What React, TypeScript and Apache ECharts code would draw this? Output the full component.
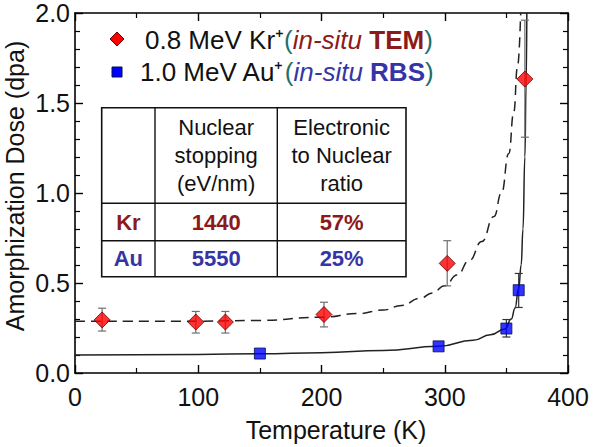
import React, { useEffect, useRef } from 'react';
import * as echarts from 'echarts';

const FONT = '"Liberation Sans", Arial, Helvetica, sans-serif';

const krTemps = [22, 98, 122, 202, 302, 365];
const krDose = [0.295, 0.283, 0.283, 0.325, 0.609, 1.633];
const krErrLow = [0.233, 0.222, 0.222, 0.256, 0.484, 1.31];
const krErrHigh = [0.36, 0.342, 0.342, 0.393, 0.735, 1.96];

const auTemps = [150, 295, 350, 360];
const auDose = [0.108, 0.148, 0.247, 0.46];
const auErrLow: (number | null)[] = [null, null, 0.2, 0.364];
const auErrHigh: (number | null)[] = [null, null, 0.297, 0.553];

// Fit curves as drawn in the figure
const krFitT = [0, 100, 150, 200, 230, 250, 265, 280, 290, 300, 310, 320, 330, 340, 346, 352, 356, 359, 361.6];
const krFitDose = [0.287, 0.288, 0.292, 0.31, 0.33, 0.35, 0.375, 0.415, 0.445, 0.485, 0.545, 0.625, 0.73, 0.87, 1.0, 1.22, 1.45, 1.7, 2.0];
const auFitT = [0, 100, 150, 200, 250, 295, 323, 337, 349, 354, 357, 360, 362, 363.5, 365, 366, 366.6];
const auFitDose = [0.1, 0.103, 0.107, 0.113, 0.125, 0.148, 0.182, 0.212, 0.245, 0.3, 0.36, 0.47, 0.6, 0.8, 1.2, 1.6, 2.0];

// Axis ticks
const xTicks = [0, 100, 200, 300, 400];
const yTicks = [0, 0.5, 1.0, 1.5, 2.0];

// Table contents
const tableHeader = ['', 'Nuclear\nstopping\n(eV/nm)', 'Electronic\nto Nuclear\nratio'];
const tableRows = [
  ['Kr', '1440', '57%'],
  ['Au', '5550', '25%'],
];

const KR_COLOR = '#8b1a1a';
const AU_COLOR = '#3535a5';
const PAREN = '#1f6f6a';

const zip = (a: number[], b: number[]) => a.map((v, i) => [v, b[i]]);

export default function App() {
  const ref = useRef<HTMLDivElement>(null);
  useEffect(() => {
    document.body.style.margin = '0';
    if (!ref.current) return;
    const chart = echarts.init(ref.current, undefined, { renderer: 'svg' });

    const errRender = (color: string) => (params: any, api: any) => {
      const x = api.value(0);
      const lo = api.value(1);
      const hi = api.value(2);
      const p1 = api.coord([x, lo]);
      const p2 = api.coord([x, hi]);
      const w = 4;
      const st = { stroke: color, lineWidth: 1.2 };
      return {
        type: 'group',
        children: [
          { type: 'line', shape: { x1: p1[0], y1: p1[1], x2: p2[0], y2: p2[1] }, style: st },
          { type: 'line', shape: { x1: p1[0] - w, y1: p1[1], x2: p1[0] + w, y2: p1[1] }, style: st },
          { type: 'line', shape: { x1: p2[0] - w, y1: p2[1], x2: p2[0] + w, y2: p2[1] }, style: st },
        ],
      };
    };

    const krErr = krTemps.map((t, i) => [t, krErrLow[i], krErrHigh[i]]);
    const auErr = auTemps
      .map((t, i) => [t, auErrLow[i], auErrHigh[i]])
      .filter((d) => d[1] != null);

    const axisCommon = {
      axisLine: { show: true, onZero: false, lineStyle: { color: '#000', width: 1.6 } },
      splitLine: { show: false },
    };

    const tableLeft = 101.7, tableRight = 406, tableTop = 107.7, tableBottom = 276.7;
    const colX = [tableLeft, 155, 277.3, tableRight];
    const rowY = [tableTop, 203.3, 240.7, tableBottom];
    const tableGraphics: any[] = [];
    tableGraphics.push({
      type: 'rect',
      shape: { x: tableLeft, y: tableTop, width: tableRight - tableLeft, height: tableBottom - tableTop },
      style: { fill: '#fff', stroke: '#111', lineWidth: 1.6 },
      z: 10,
    });
    colX.slice(1, 3).forEach((x) =>
      tableGraphics.push({ type: 'line', shape: { x1: x, y1: tableTop, x2: x, y2: tableBottom }, style: { stroke: '#111', lineWidth: 1.4 }, z: 11 })
    );
    rowY.slice(1, 3).forEach((y) =>
      tableGraphics.push({ type: 'line', shape: { x1: tableLeft, y1: y, x2: tableRight, y2: y }, style: { stroke: '#111', lineWidth: 1.4 }, z: 11 })
    );
    tableHeader.forEach((txt, c) => {
      if (!txt) return;
      tableGraphics.push({
        type: 'text',
        x: (colX[c] + colX[c + 1]) / 2,
        y: (rowY[0] + rowY[1]) / 2,
        style: { text: txt, fontSize: 22, lineHeight: 28, fontFamily: FONT, fill: '#111', align: 'center', verticalAlign: 'middle' },
        z: 12,
      });
    });
    tableRows.forEach((row, r) => {
      const color = r === 0 ? KR_COLOR : AU_COLOR;
      row.forEach((txt, c) => {
        tableGraphics.push({
          type: 'text',
          x: (colX[c] + colX[c + 1]) / 2,
          y: (rowY[r + 1] + rowY[r + 2]) / 2,
          style: { text: txt, fontSize: 22, fontWeight: 'bold', fontFamily: FONT, fill: color, align: 'center', verticalAlign: 'middle' },
          z: 12,
        });
      });
    });

    const legendRich = (c: string) => ({
      n: { fontSize: 26, fontFamily: FONT, fill: '#111' },
      p: { fontSize: 26, fontFamily: FONT, fill: PAREN },
      ri: { fontSize: 26, fontFamily: FONT, fill: c, fontStyle: 'italic' },
      rb: { fontSize: 26, fontFamily: FONT, fill: c, fontWeight: 'bold' },
    });

    const option: any = {
      animation: false,
      grid: { left: 75, right: 28, top: 13, bottom: 74, containLabel: false },
      xAxis: [
        {
          type: 'value', min: 0, max: 400, interval: 100, position: 'bottom',
          ...axisCommon,
          axisTick: { show: true, inside: true, length: 8, lineStyle: { color: '#000', width: 1.4 } },
          minorTick: { show: true, splitNumber: 2, length: 5, lineStyle: { color: '#000', width: 1.2 } },
          axisLabel: {
            show: true, margin: 11, fontSize: 25, fontFamily: FONT, color: '#111',
            customValues: xTicks,
            formatter: (v: number) => String(v),
          },
        },
        {
          type: 'value', min: 0, max: 400, interval: 100, position: 'top',
          ...axisCommon,
          axisTick: { show: true, inside: true, length: 8, lineStyle: { color: '#000', width: 1.4 } },
          minorTick: { show: true, splitNumber: 2, length: 5, lineStyle: { color: '#000', width: 1.2 } },
          axisLabel: { show: false },
        },
      ],
      yAxis: [
        {
          type: 'value', min: 0, max: 2, interval: 0.5, position: 'left',
          ...axisCommon,
          axisTick: { show: true, inside: true, length: 8, lineStyle: { color: '#000', width: 1.4 } },
          minorTick: { show: true, splitNumber: 5, length: 5, lineStyle: { color: '#000', width: 1.2 } },
          axisLabel: {
            show: true, margin: 5, fontSize: 25, fontFamily: FONT, color: '#111',
            customValues: yTicks,
            formatter: (v: number) => v.toFixed(1),
          },
        },
        {
          type: 'value', min: 0, max: 2, interval: 0.5, position: 'right',
          ...axisCommon,
          axisTick: { show: true, inside: true, length: 8, lineStyle: { color: '#000', width: 1.4 } },
          minorTick: { show: true, splitNumber: 5, length: 5, lineStyle: { color: '#000', width: 1.2 } },
          axisLabel: { show: false },
        },
      ],
      series: [
        {
          type: 'line', data: zip(krFitT, krFitDose), showSymbol: false, smooth: true, smoothMonotone: 'x',
          lineStyle: { color: '#222', width: 1.5, type: [10, 6] }, z: 1, silent: true,
        },
        {
          type: 'line', data: zip(auFitT, auFitDose), showSymbol: false, smooth: true, smoothMonotone: 'x',
          lineStyle: { color: '#222', width: 1.5 }, z: 1, silent: true,
        },
        { type: 'custom', data: krErr, renderItem: errRender('#6f6f6f'), encode: { x: 0, y: [1, 2] }, z: 2 },
        { type: 'custom', data: auErr, renderItem: errRender('#333'), encode: { x: 0, y: [1, 2] }, z: 2 },
        {
          type: 'scatter', data: zip(krTemps, krDose), symbol: 'diamond', symbolSize: 16,
          itemStyle: { color: '#ff0000', borderColor: '#600', borderWidth: 1 }, z: 3,
        },
        {
          type: 'scatter', data: zip(auTemps, auDose), symbol: 'rect', symbolSize: 11,
          itemStyle: { color: '#0000ff', borderColor: '#001050', borderWidth: 1 }, z: 3,
        },
      ],
      graphic: [
        {
          type: 'text', x: 336, y: 430,
          style: { text: 'Temperature (K)', fontSize: 25, fontFamily: FONT, fill: '#111', align: 'center', verticalAlign: 'middle' },
        },
        {
          type: 'text', x: 15, y: 186, rotation: Math.PI / 2,
          style: { text: 'Amorphization Dose (dpa)', fontSize: 25, fontFamily: FONT, fill: '#111', align: 'center', verticalAlign: 'middle' },
        },
        {
          type: 'polygon', shape: { points: [[117, 32], [124, 39], [117, 46], [110, 39]] },
          style: { fill: '#ff0000', stroke: '#600', lineWidth: 1 },
        },
        {
          type: 'rect', shape: { x: 112, y: 67, width: 10, height: 10 },
          style: { fill: '#0000ff', stroke: '#001050', lineWidth: 1 },
        },
        {
          type: 'text', x: 145, y: 40,
          style: {
            text: '{n|0.8 MeV Kr⁺}{p|(}{ri|in-situ }{rb|TEM}{p|)}',
            rich: legendRich(KR_COLOR), verticalAlign: 'middle', align: 'left',
          },
        },
        {
          type: 'text', x: 140, y: 72,
          style: {
            text: '{n|1.0 MeV Au⁺}{p|(}{ri|in-situ }{rb|RBS}{p|)}',
            rich: legendRich(AU_COLOR), verticalAlign: 'middle', align: 'left',
          },
        },
        ...tableGraphics,
      ],
    };
    chart.setOption(option);
    return () => chart.dispose();
  }, []);
  return <div ref={ref} style={{ width: 596, height: 447 }} />;
}
